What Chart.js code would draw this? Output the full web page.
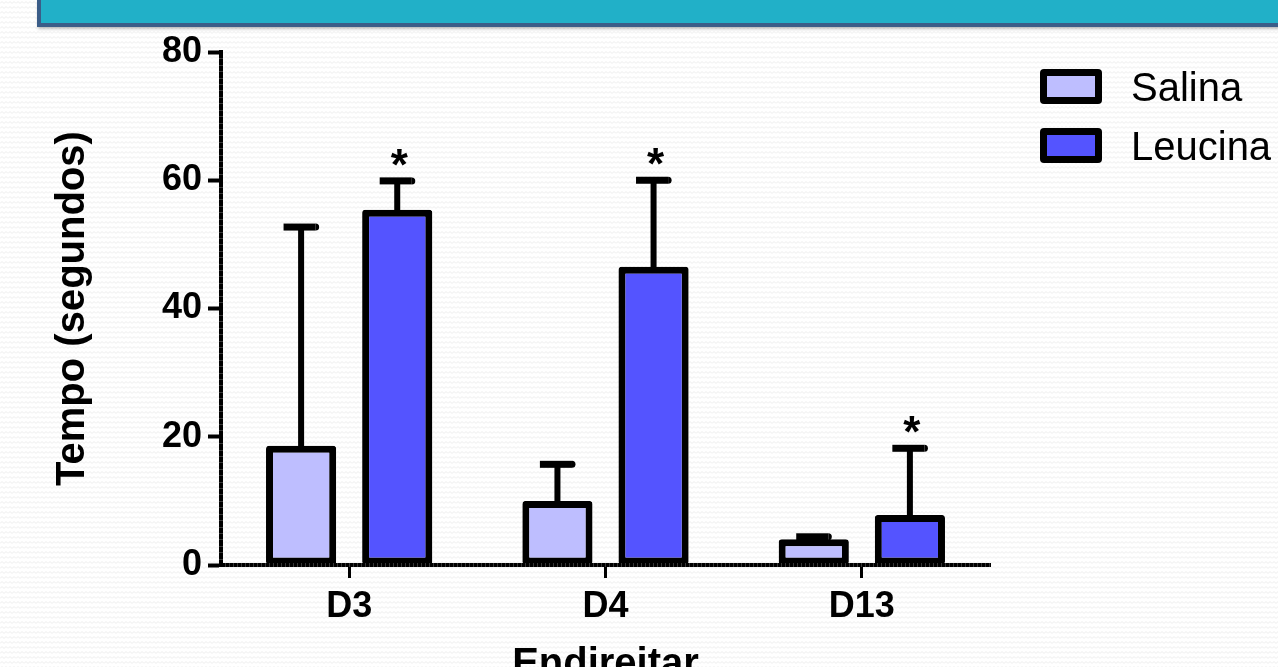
<!DOCTYPE html>
<html lang="pt">
<head>
<meta charset="utf-8">
<title>Endireitar – Tempo (segundos)</title>
<script src="https://cdn.jsdelivr.net/npm/chart.js@4.4.1/dist/chart.umd.min.js"></script>
<style>
  html, body { margin: 0; padding: 0; width: 1278px; height: 667px; overflow: hidden; }
  body {
    background-color: #ffffff;
    background-image: url("data:image/svg+xml;utf8,<svg xmlns='http://www.w3.org/2000/svg' width='8' height='5'><polyline points='0,3.5 2,1.5 4,3.5 6,1.5 8,3.5' fill='none' stroke='%23ececec' stroke-width='1'/></svg>");
    background-size: 8px 5px;
    position: relative;
  }
  .banner {
    position: absolute; left: 37px; top: 0; width: 1260px; height: 23px;
    background: #21b0c8;
    border-left: 4px solid #3b5d88; border-bottom: 4px solid #3b5d88;
    box-shadow: 1px 2px 3px rgba(0,0,0,0.25);
  }
  #chart { position: absolute; left: 0; top: 0; }
</style>
</head>
<body>
<div class="banner"></div>
<canvas id="chart" width="1278" height="667"></canvas>
<script>
// Grupos e valores (média e erro padrão) em segundos
const categories = ['D3', 'D4', 'D13'];
const salinaMean = [18.6, 10.0, 4.0];
const salinaSem = [34.1, 5.7, 0.4];
const leucinaMean = [55.4, 46.5, 7.8];
const leucinaSem = [4.5, 13.5, 10.4];
const salinaMarks = ['', '', ''];
const leucinaMarks = ['*', '*', '*'];
const yTicks = [0, 20, 40, 60, 80];

const FONT = '"Liberation Sans", Arial, Helvetica, sans-serif';
const SALINA_COLOR = '#bebeff';
const LEUCINA_COLOR = '#5454ff';

// Barras de erro (só para cima) e marcas de significância
const errorBarsPlugin = {
  id: 'errorBars',
  afterDatasetsDraw(chart) {
    const ctx = chart.ctx;
    const y = chart.scales.y;
    chart.data.datasets.forEach((ds, i) => {
      const meta = chart.getDatasetMeta(i);
      meta.data.forEach((bar, j) => {
        const top = y.getPixelForValue(ds.data[j] + ds.sem[j]);
        const half = bar.width / 4;
        ctx.save();
        ctx.fillStyle = '#000';
        // haste
        ctx.fillRect(bar.x - 3, top, 6, bar.y - top + 1);
        // travessão
        ctx.fillRect(bar.x - half, top - 3.5, half * 2 - 3, 7);
        ctx.beginPath();
        ctx.arc(bar.x + half - 3, top, 3.5, -Math.PI / 2, Math.PI / 2);
        ctx.fill();
        // marca de significância
        const mark = ds.marks[j];
        if (mark) {
          ctx.font = 'bold 44px ' + FONT;
          ctx.textAlign = 'center';
          ctx.textBaseline = 'alphabetic';
          ctx.fillText(mark, bar.x + 2, top - 1);
        }
        ctx.restore();
      });
    });
  }
};

// Riscas menores nos eixos
const axisLadderPlugin = {
  id: 'axisLadder',
  afterDraw(chart) {
    const ctx = chart.ctx;
    const y = chart.scales.y;
    const area = chart.chartArea;
    ctx.save();
    ctx.fillStyle = 'rgba(255,255,255,0.22)';
    for (let v = y.min + 1; v < y.max; v++) {
      if (yTicks.includes(v)) continue;
      const py = Math.round(y.getPixelForValue(v));
      ctx.fillRect(area.left - 2, py, 5, 1);
    }
    for (let px = area.left + 4; px < area.right; px += 4) {
      ctx.fillRect(Math.round(px), area.bottom - 2, 1, 4);
    }
    ctx.restore();
  }
};

// Legenda à direita
const legendPlugin = {
  id: 'sideLegend',
  afterDraw(chart) {
    const ctx = chart.ctx;
    const x0 = 1040, y0 = 69, boxW = 62, boxH = 35, step = 59;
    chart.data.datasets.forEach((ds, i) => {
      const by = y0 + i * step;
      ctx.save();
      ctx.fillStyle = '#000';
      ctx.beginPath();
      ctx.roundRect(x0, by, boxW, boxH, 4);
      ctx.fill();
      ctx.fillStyle = ds.backgroundColor;
      ctx.fillRect(x0 + 7, by + 7, boxW - 14, boxH - 14);
      ctx.fillStyle = '#000';
      ctx.font = '40px ' + FONT;
      ctx.textAlign = 'left';
      ctx.textBaseline = 'alphabetic';
      ctx.fillText(ds.label, 1131, by + 32);
      ctx.restore();
    });
  }
};

new Chart(document.getElementById('chart'), {
  type: 'bar',
  data: {
    labels: categories,
    datasets: [
      {
        label: 'Salina', data: salinaMean, sem: salinaSem, marks: salinaMarks,
        backgroundColor: SALINA_COLOR, borderColor: '#000', borderWidth: 7,
        borderRadius: 3, borderSkipped: false,
        categoryPercentage: 0.75, barPercentage: 0.73
      },
      {
        label: 'Leucina', data: leucinaMean, sem: leucinaSem, marks: leucinaMarks,
        backgroundColor: LEUCINA_COLOR, borderColor: '#000', borderWidth: 7,
        borderRadius: 3, borderSkipped: false,
        categoryPercentage: 0.75, barPercentage: 0.73
      }
    ]
  },
  options: {
    responsive: false,
    animation: false,
    devicePixelRatio: 1,
    layout: { padding: { left: 0, top: 52, right: 288, bottom: 0 } },
    plugins: { legend: { display: false }, tooltip: { enabled: false } },
    scales: {
      x: {
        grid: { display: true, drawOnChartArea: false, offset: false, tickLength: 13, tickWidth: 3, tickColor: '#000', color: '#000' },
        border: { display: true, color: '#000', width: 4 },
        ticks: { color: '#000', font: { family: FONT, size: 36, weight: 'bold' }, padding: 7 },
        title: { display: true, text: 'Endireitar', color: '#000', font: { family: FONT, size: 40, weight: 'bold', lineHeight: 0.1 }, padding: 0 },
        afterFit(scale) { scale.height = 102; }
      },
      y: {
        min: 0, max: 80,
        afterBuildTicks(scale) { scale.ticks = yTicks.map(v => ({ value: v })); },
        grid: { display: true, drawOnChartArea: false, tickLength: 13, tickWidth: 4, tickColor: '#000', color: '#000' },
        border: { display: true, color: '#000', width: 4 },
        ticks: { color: '#000', font: { family: FONT, size: 36, weight: 'bold' }, padding: 6 },
        title: { display: true, text: 'Tempo (segundos)', color: '#000', font: { family: FONT, size: 40, weight: 'bold' }, padding: { top: 49, bottom: 0 } },
        afterFit(scale) { scale.width = 221; }
      }
    }
  },
  plugins: [errorBarsPlugin, axisLadderPlugin, legendPlugin]
});
</script>
</body>
</html>
